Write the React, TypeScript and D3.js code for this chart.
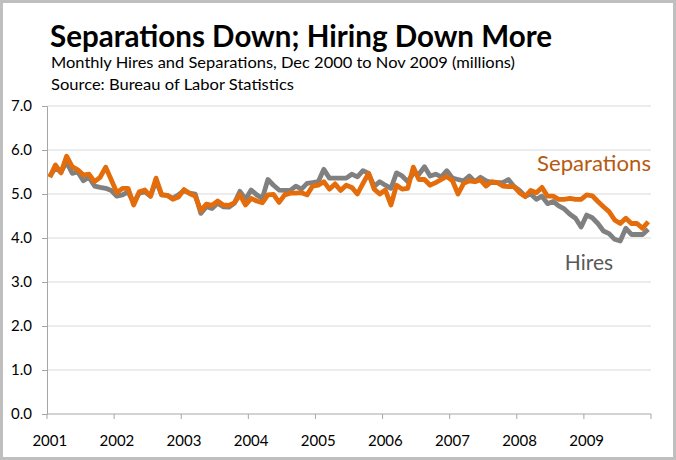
import { useRef, useEffect } from 'react';
import * as d3 from 'd3';

// Dec 2000 .. Nov 2009, millions
const months = d3.timeMonth.range(new Date(2000, 11, 1), new Date(2009, 11, 1));

const separations = [
    5.38, 5.66, 5.48, 5.86, 5.62, 5.55, 5.43, 5.45, 5.28, 5.38, 5.61, 5.32,
    5.03, 5.13, 5.13, 4.75, 5.05, 5.09, 4.95, 5.36, 4.98, 4.97, 4.88, 4.93,
    5.10, 5.01, 4.95, 4.62, 4.77, 4.74, 4.84, 4.75, 4.74, 4.80, 4.98, 4.75,
    4.90, 4.84, 4.80, 4.98, 4.99, 4.81, 4.98, 5.02, 5.02, 5.03, 4.98, 5.18,
    5.20, 5.28, 5.11, 5.23, 5.08, 5.20, 5.15, 5.00, 5.24, 5.47, 5.11, 5.00,
    5.09, 4.75, 5.20, 5.11, 5.13, 5.61, 5.33, 5.33, 5.20, 5.26, 5.33, 5.40,
    5.30, 5.00, 5.24, 5.30, 5.28, 5.32, 5.18, 5.28, 5.26, 5.18, 5.17, 5.17,
    5.03, 4.94, 5.08, 5.03, 5.15, 4.95, 4.95, 4.88, 4.88, 4.90, 4.88, 4.88,
    4.98, 4.96, 4.83, 4.71, 4.60, 4.41, 4.33, 4.45, 4.33, 4.33, 4.22, 4.37
];

const hires = [
    5.40, 5.60, 5.50, 5.73, 5.47, 5.50, 5.30, 5.38, 5.18, 5.15, 5.13, 5.08,
    4.95, 4.98, 5.05, 4.80, 5.02, 5.05, 4.95, 5.30, 4.98, 4.97, 4.90, 4.98,
    5.08, 5.02, 5.00, 4.56, 4.71, 4.67, 4.79, 4.71, 4.70, 4.79, 5.06, 4.88,
    5.09, 4.98, 4.90, 5.33, 5.20, 5.09, 5.08, 5.08, 5.18, 5.11, 5.24, 5.26,
    5.28, 5.56, 5.36, 5.36, 5.36, 5.36, 5.45, 5.39, 5.53, 5.47, 5.17, 5.28,
    5.20, 5.13, 5.48, 5.41, 5.28, 5.47, 5.45, 5.62, 5.41, 5.45, 5.39, 5.53,
    5.36, 5.33, 5.30, 5.41, 5.28, 5.38, 5.30, 5.26, 5.26, 5.26, 5.33, 5.17,
    5.08, 4.95, 5.00, 4.88, 4.95, 4.78, 4.83, 4.73, 4.66, 4.54, 4.45, 4.25,
    4.52, 4.46, 4.33, 4.16, 4.10, 3.97, 3.93, 4.22, 4.08, 4.08, 4.08, 4.20
];

const yTicks = [0, 1, 2, 3, 4, 5, 6, 7];
const yearLabels = ['2001', '2002', '2003', '2004', '2005', '2006', '2007', '2008', '2009'];

const FONT = 'Lato, "Open Sans", sans-serif';

const App = () => {

    const svgRef = useRef<SVGSVGElement | null>(null);

    const renderChart = () => {
        const svgElement = svgRef.current;
        if (!svgElement) return;

        const width = 676;
        const height = 460;
        const margin = { top: 106, right: 25, bottom: 46, left: 47 };

        const svg = d3.select(svgElement)
            .attr('width', width)
            .attr('height', height);

        svg.selectAll('*').remove();

        svg.append('rect')
            .attr('x', 1.5).attr('y', 1.5)
            .attr('width', width - 3).attr('height', height - 3)
            .attr('fill', '#fff')
            .attr('stroke', '#bfbfbf')
            .attr('stroke-width', 3);

        const x = d3.scaleBand<number>()
            .domain(months.map((_, i) => i))
            .range([margin.left, width - margin.right]);

        const y = d3.scaleLinear()
            .domain([0, 7])
            .range([height - margin.bottom, margin.top]);

        // grid
        svg.append('g')
            .selectAll('line')
            .data(yTicks.slice(1))
            .join('line')
            .attr('x1', margin.left)
            .attr('x2', width - margin.right)
            .attr('y1', d => y(d))
            .attr('y2', d => y(d))
            .attr('stroke', '#d9d9d9')
            .attr('stroke-width', 1);

        // y axis
        const yAxis = svg.append('g')
            .attr('transform', `translate(${margin.left}, 0)`)
            .call(d3.axisLeft(y).tickValues(yTicks).tickSize(5).tickPadding(10).tickFormat(d3.format('.1f')));

        yAxis.select('.domain').attr('stroke', '#a6a6a6');
        yAxis.selectAll('line').attr('stroke', '#a6a6a6');
        yAxis.selectAll('text')
            .attr('fill', '#000')
            .style('font-family', FONT)
            .style('font-size', '15px');

        // x axis
        const x0 = y(0);
        const bw = x.bandwidth();
        const tickIdx = d3.range(0, months.length + 1, 12);

        svg.append('line')
            .attr('x1', margin.left).attr('x2', width - margin.right)
            .attr('y1', x0).attr('y2', x0)
            .attr('stroke', '#a6a6a6');

        svg.append('g')
            .selectAll('line')
            .data(tickIdx)
            .join('line')
            .attr('x1', d => margin.left + d * bw)
            .attr('x2', d => margin.left + d * bw)
            .attr('y1', x0)
            .attr('y2', x0 + 5)
            .attr('stroke', '#a6a6a6');

        svg.append('g')
            .selectAll('text')
            .data(yearLabels)
            .join('text')
            .attr('x', (_, i) => (x(i * 12) as number) + bw / 2)
            .attr('y', x0 + 32)
            .attr('text-anchor', 'middle')
            .style('font-family', FONT)
            .style('font-size', '15px')
            .attr('fill', '#000')
            .text(d => d);

        // lines
        const line = d3.line<number>()
            .x((_, i) => (x(i) as number) + bw / 2)
            .y(d => y(d));

        svg.append('path')
            .datum(hires)
            .attr('fill', 'none')
            .attr('stroke', '#808080')
            .attr('stroke-width', 4.8)
            .attr('stroke-linejoin', 'round')
            .attr('d', line);

        svg.append('path')
            .datum(separations)
            .attr('fill', 'none')
            .attr('stroke', '#e46c0a')
            .attr('stroke-width', 4.8)
            .attr('stroke-linejoin', 'round')
            .attr('d', line);

        // series labels
        svg.append('text')
            .attr('x', 651)
            .attr('y', 171)
            .attr('text-anchor', 'end')
            .attr('textLength', 114)
            .attr('lengthAdjust', 'spacingAndGlyphs')
            .style('font-family', FONT)
            .style('font-size', '21.5px')
            .attr('fill', '#b65a10')
            .text('Separations');

        svg.append('text')
            .attr('x', 589)
            .attr('y', 270)
            .attr('text-anchor', 'middle')
            .style('font-family', FONT)
            .style('font-size', '21px')
            .attr('fill', '#595959')
            .text('Hires');

        // titles
        svg.append('text')
            .attr('x', 50)
            .attr('y', 47)
            .attr('textLength', 502)
            .attr('lengthAdjust', 'spacingAndGlyphs')
            .style('font-family', FONT)
            .style('font-weight', 'bold')
            .style('font-size', '30px')
            .attr('fill', '#000')
            .text('Separations Down; Hiring Down More');

        svg.append('text')
            .attr('x', 51)
            .attr('y', 68)
            .attr('textLength', 464)
            .attr('lengthAdjust', 'spacingAndGlyphs')
            .style('font-family', FONT)
            .style('font-size', '16px')
            .attr('fill', '#000')
            .text('Monthly Hires and Separations, Dec 2000 to Nov 2009 (millions)');

        svg.append('text')
            .attr('x', 51)
            .attr('y', 90)
            .attr('textLength', 243)
            .attr('lengthAdjust', 'spacingAndGlyphs')
            .style('font-family', FONT)
            .style('font-size', '16px')
            .attr('fill', '#000')
            .text('Source: Bureau of Labor Statistics');
    };

    useEffect(() => {
        renderChart();
    }, []);

    return (
        <svg ref={svgRef} style={{ position: 'absolute', left: 0, top: 0 }}></svg>
    );
};

export default App;
